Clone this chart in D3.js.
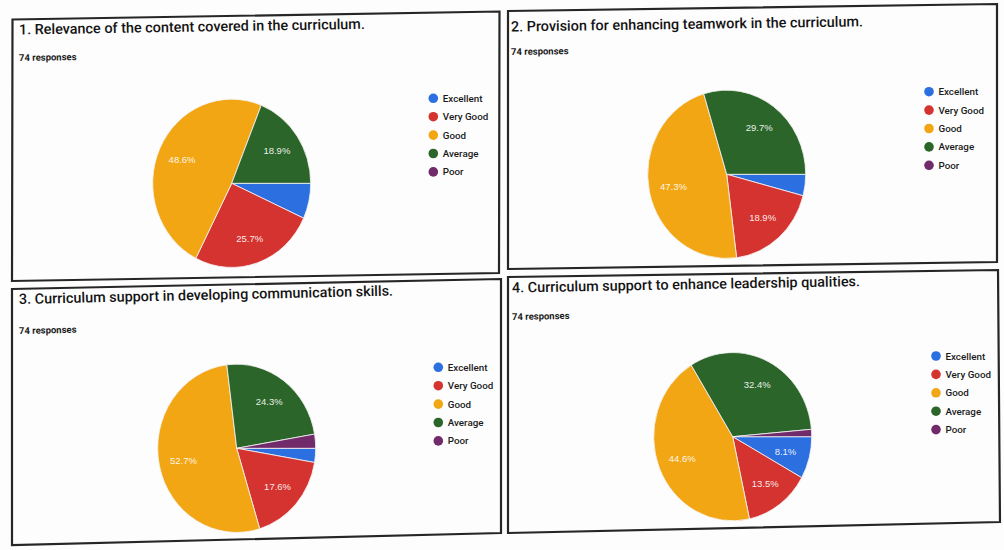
<!DOCTYPE html>
<html><head><meta charset="utf-8">
<script src="https://cdn.jsdelivr.net/npm/d3@7"></script>
<style>body{margin:0;background:#fff}svg{display:block}</style>
</head><body>
<svg id="chart" width="1004" height="550"></svg>
<script>
// ---- data ----
const categories = ["Excellent", "Very Good", "Good", "Average", "Poor"];
const titles = [
  "1. Relevance of the content covered in the curriculum.",
  "2. Provision for enhancing teamwork in the curriculum.",
  "3. Curriculum support in developing communication skills.",
  "4. Curriculum support to enhance leadership qualities."
];
const responseLabels = ["74 responses", "74 responses", "74 responses", "74 responses"];
const q1Values = [6.8, 25.7, 48.6, 18.9, 0];
const q2Values = [4.1, 18.9, 47.3, 29.7, 0];
const q3Values = [2.7, 17.6, 52.7, 24.3, 2.7];
const q4Values = [8.1, 13.5, 44.6, 32.4, 1.4];
const seriesValues = [q1Values, q2Values, q3Values, q4Values];

// ---- style / layout ----
const colors = ["#2b6fe0", "#d5332f", "#f2a614", "#2c6529", "#712a6a"];
const panels = [
  {corners: [[12.5,19.5],[499.5,11.5],[499,273],[12,281]], slope: -0.0164,
   title: [19,34.5], resp: [19,61], pie: [231.7,183.3], legend: [433.3,98.3]},
  {corners: [[508,11],[997,4],[997,262],[508,269]], slope: -0.0146,
   title: [511,31.5], resp: [511,55], pie: [726.7,174.3], legend: [929,91.7]},
  {corners: [[12,289],[501,279],[501,533],[12,545]], slope: -0.0225,
   title: [19,304], resp: [19,334], pie: [236.7,448.3], legend: [438.3,367.3]},
  {corners: [[508,277],[998,270],[1000,522],[508,533]], slope: -0.0185,
   title: [512,292.5], resp: [512,320], pie: [732.7,436.7], legend: [936,356]}
];
const R = 79, KY = 1.065, LEG_STEP = 18.4;

const svg = d3.select("#chart");
svg.append("rect").attr("width",1004).attr("height",550).attr("fill","#fdfdfd");

const color = d3.scaleOrdinal().domain(categories).range(colors);
const pie = d3.pie().sort(null).value(d => d.v)
  .startAngle(Math.PI/2).endAngle(Math.PI/2 + 2*Math.PI);
const arc = d3.arc().innerRadius(0).outerRadius(R);
const labelArc = d3.arc().innerRadius(R*0.69).outerRadius(R*0.69);
const fmt = v => d3.format(".1f")(v) + "%";
const deg = s => Math.atan(s) * 180 / Math.PI;

panels.forEach((p, i) => {
  const g = svg.append("g");
  const rot = deg(p.slope);
  // border
  g.append("path")
    .attr("d", d3.line()(p.corners) + "Z")
    .attr("fill", "none").attr("stroke", "#262626").attr("stroke-width", 2.2);
  // title
  g.append("text")
    .attr("transform", `translate(${p.title[0]},${p.title[1]}) rotate(${rot})`)
    .attr("font-family", "Roboto, Arial, sans-serif").attr("font-weight", 500)
    .attr("font-size", 14.4).attr("fill", "#141414")
    .text(titles[i]);
  g.append("text")
    .attr("transform", `translate(${p.resp[0]},${p.resp[1]}) rotate(${rot})`)
    .attr("font-family", "Roboto, Arial, sans-serif").attr("font-weight", 700)
    .attr("font-size", 9.5).attr("fill", "#1a1a1a")
    .text(responseLabels[i]);
  // pie
  const data = categories.map((c, k) => ({c, v: seriesValues[i][k]}));
  const arcs = pie(data);
  const pg = g.append("g").attr("transform", `translate(${p.pie[0]},${p.pie[1]}) scale(1,${KY})`);
  pg.selectAll("path").data(arcs.filter(a => a.data.v > 0)).join("path")
    .attr("d", arc).attr("fill", d => color(d.data.c))
    .attr("stroke", "#f4f4f4").attr("stroke-width", 0.8);
  g.selectAll("text.lbl").data(arcs.filter(a => a.data.v >= 8)).join("text")
    .attr("class", "lbl")
    .attr("x", d => p.pie[0] + labelArc.centroid(d)[0])
    .attr("y", d => p.pie[1] + labelArc.centroid(d)[1]*KY + 3.5)
    .attr("text-anchor", "middle")
    .attr("font-family", "Arial, 'Liberation Sans', sans-serif").attr("font-size", 9.5)
    .attr("fill", "#ffffff").attr("fill-opacity", 0.92)
    .text(d => fmt(d.data.v));
  // legend
  const lg = g.append("g").attr("transform", `translate(${p.legend[0]},${p.legend[1]})`);
  const items = lg.selectAll("g").data(categories).join("g")
    .attr("transform", (d, k) => `translate(0,${k*LEG_STEP})`);
  items.append("circle").attr("r", 4.8).attr("fill", d => color(d));
  items.append("text").attr("x", 9.5).attr("y", 3.5)
    .attr("font-family", "Roboto, Arial, sans-serif").attr("font-weight", 500)
    .attr("font-size", 9.8).attr("fill", "#1a1a1a")
    .text(d => d);
});
</script>
</body></html>
